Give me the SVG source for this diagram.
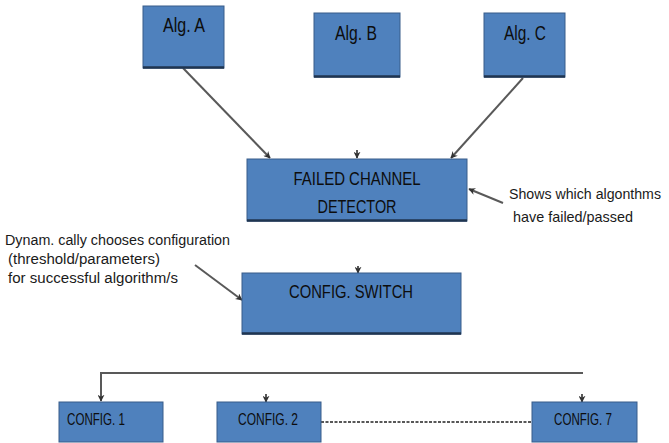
<svg xmlns="http://www.w3.org/2000/svg" width="669" height="443" viewBox="0 0 669 443">
<style>
.box{fill:#4F81BD;stroke:#385D8A;stroke-width:1}
.base{stroke:#1F3550;stroke-width:2.5}
.lbl{font-family:"Liberation Sans",Arial,sans-serif;fill:#0d0d0d;text-anchor:middle}
.note{font-family:"Liberation Sans",Arial,sans-serif;fill:#1a1a1a;font-size:15.5px}
.con{fill:none;stroke:#595959;stroke-width:2}
</style>
<defs>
<marker id="ah" viewBox="0 0 10 10" refX="9" refY="5" markerWidth="7" markerHeight="7" markerUnits="userSpaceOnUse" orient="auto">
<path d="M0,0 L10,5 L0,10 L3,5 Z" fill="#333"/>
</marker>
</defs>
<rect width="669" height="443" fill="#fff"/>
<g id="connectors">
<line class="con" x1="183" y1="68" x2="270" y2="158" marker-end="url(#ah)"/>
<line class="con" x1="523" y1="78" x2="451" y2="158" marker-end="url(#ah)"/>
<line class="con" x1="357" y1="150" x2="357" y2="158" stroke-width="1" marker-end="url(#ah)"/>
<line class="con" x1="503" y1="203" x2="469" y2="189" stroke-width="1.5" marker-end="url(#ah)"/>
<line class="con" x1="195" y1="265" x2="242" y2="300" stroke-width="1.5" marker-end="url(#ah)"/>
<line class="con" x1="358" y1="266" x2="358" y2="273" stroke-width="1" marker-end="url(#ah)"/>
<path class="con" d="M583,373 H101 V401" marker-end="url(#ah)"/>
<line class="con" x1="266" y1="394" x2="266" y2="402" stroke-width="1" marker-end="url(#ah)"/>
<line class="con" x1="582" y1="394" x2="582" y2="402" stroke-width="1" marker-end="url(#ah)"/>
<line x1="321" y1="422" x2="532" y2="422" stroke="#222" stroke-width="1.5" stroke-dasharray="3,1.5"/>
</g>
<g id="algA">
<rect class="box" x="143" y="6" width="81" height="62"/>
<line class="base" x1="143" y1="67.5" x2="224" y2="67.5"/>
<text class="lbl" x="184" y="32" font-size="20" textLength="42" lengthAdjust="spacingAndGlyphs">Alg. A</text>
</g>
<g id="algB">
<rect class="box" x="314" y="13" width="86" height="64"/>
<line class="base" x1="314" y1="76.5" x2="400" y2="76.5"/>
<text class="lbl" x="356" y="40" font-size="20" textLength="42" lengthAdjust="spacingAndGlyphs">Alg. B</text>
</g>
<g id="algC">
<rect class="box" x="484" y="13" width="81" height="64"/>
<line class="base" x1="484" y1="76.5" x2="565" y2="76.5"/>
<text class="lbl" x="525" y="40" font-size="20" textLength="42" lengthAdjust="spacingAndGlyphs">Alg. C</text>
</g>
<g id="failed">
<rect class="box" x="247" y="159" width="220" height="62"/>
<line class="base" x1="247" y1="220.5" x2="467" y2="220.5"/>
<text class="lbl" x="357" y="185" font-size="18" textLength="127" lengthAdjust="spacingAndGlyphs">FAILED CHANNEL</text>
<text class="lbl" x="357" y="213" font-size="18" textLength="79" lengthAdjust="spacingAndGlyphs">DETECTOR</text>
</g>
<g id="note-right">
<text class="note" x="509" y="199" font-size="14" style="font-size:14px" textLength="152" lengthAdjust="spacingAndGlyphs">Shows which algonthms</text>
<text class="note" x="513" y="222" style="font-size:14.5px" textLength="120" lengthAdjust="spacingAndGlyphs">have failed/passed</text>
</g>
<g id="note-left">
<text class="note" x="5" y="245" textLength="225" lengthAdjust="spacingAndGlyphs">Dynam. cally chooses configuration</text>
<text class="note" x="8" y="264" textLength="152" lengthAdjust="spacingAndGlyphs">(threshold/parameters)</text>
<text class="note" x="8" y="283" textLength="170" lengthAdjust="spacingAndGlyphs">for successful algorithm/s</text>
</g>
<g id="switch">
<rect class="box" x="242" y="273" width="219" height="61"/>
<line class="base" x1="242" y1="333.5" x2="461" y2="333.5"/>
<text class="lbl" x="351" y="298" font-size="18" textLength="124" lengthAdjust="spacingAndGlyphs">CONFIG. SWITCH</text>
</g>
<g id="config1">
<rect class="box" x="59" y="402" width="104" height="40"/>
<text class="lbl" x="96" y="425" font-size="16" textLength="58" lengthAdjust="spacingAndGlyphs">CONFIG. 1</text>
</g>
<g id="config2">
<rect class="box" x="217" y="402" width="104" height="40"/>
<text class="lbl" x="268" y="425" font-size="16" textLength="60" lengthAdjust="spacingAndGlyphs">CONFIG. 2</text>
</g>
<g id="config7">
<rect class="box" x="532" y="402" width="105" height="40"/>
<text class="lbl" x="583" y="425" font-size="16" textLength="58" lengthAdjust="spacingAndGlyphs">CONFIG. 7</text>
</g>
</svg>
